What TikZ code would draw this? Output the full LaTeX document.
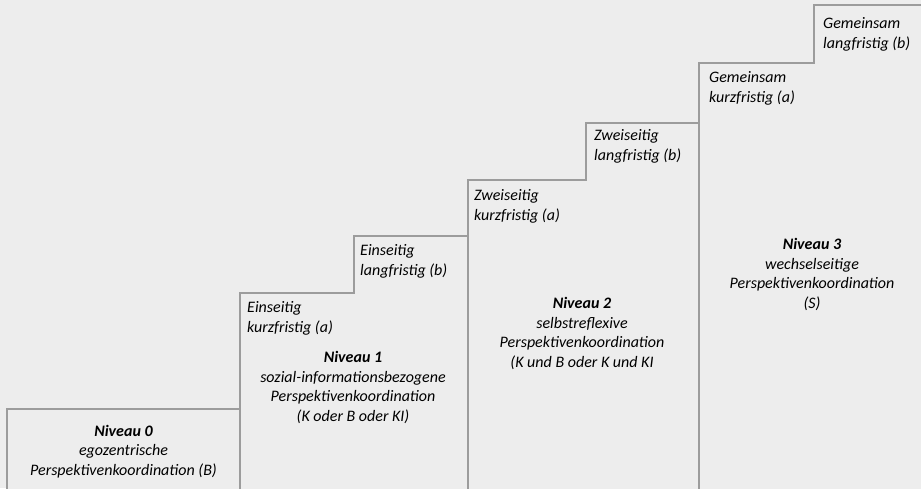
\documentclass[tikz,border=0pt]{standalone}
\usepackage{fontspec}
\setmainfont{Carlito}
\definecolor{pagebg}{HTML}{EDEDED}
\definecolor{edgegray}{HTML}{9C9C9C}
\begin{document}
\begin{tikzpicture}[x=1pt,y=-1pt,
  stair/.style={draw=edgegray, line width=1.3pt, fill=pagebg, line join=miter},
  sublabel/.style={anchor=base west, align=left, inner sep=0pt,
    font=\fontsize{16}{19.4}\selectfont\itshape},
  levellabel/.style={anchor=base, align=center, inner sep=0pt,
    font=\fontsize{16}{19.4}\selectfont\itshape}]
  % canvas
  \fill[pagebg] (0,0) rectangle (921,488);
  \useasboundingbox (0,0) rectangle (921,488);
  \clip (0,0) rectangle (921,488);

  % the four stair columns
  \draw[stair] (7,500) -- (7,409) -- (240,409) -- (240,500);
  \draw[stair] (240,500) -- (240,293) -- (354,293) -- (354,236) -- (468,236) -- (468,500);
  \draw[stair] (468,500) -- (468,180) -- (586,180) -- (586,123) -- (699,123) -- (699,500);
  \draw[stair] (699,500) -- (699,63) -- (814,63) -- (814,5) -- (930,5) -- (930,500);

  % level 0 (anchored at the baseline of the last line)
  \node[levellabel] (n0) at (123.5,475) {\textbf{Niveau 0}\\egozentrische\\Perspektivenkoordination (B)};

  % level 1
  \node[sublabel] (s1a) at (247,332) {Einseitig\\kurzfristig (a)};
  \node[sublabel] (s1b) at (360,275) {Einseitig\\langfristig (b)};
  \node[levellabel] (n1) at (353,421) {\textbf{Niveau 1}\\sozial-informationsbezogene\\Perspektivenkoordination\\(K oder B oder KI)};

  % level 2
  \node[sublabel] (s2a) at (474,220) {Zweiseitig\\kurzfristig (a)};
  \node[sublabel] (s2b) at (594,160) {Zweiseitig\\langfristig (b)};
  \node[levellabel] (n2) at (582,367) {\textbf{Niveau 2}\\selbstreflexive\\Perspektivenkoordination\\(K und B oder K und KI};

  % level 3
  \node[sublabel] (s3a) at (709,102) {Gemeinsam\\kurzfristig (a)};
  \node[sublabel] (s3b) at (823,48) {Gemeinsam\\langfristig (b)};
  \node[levellabel] (n3) at (812,308) {\textbf{Niveau 3}\\wechselseitige\\Perspektivenkoordination\\(S)};
\end{tikzpicture}
\end{document}
